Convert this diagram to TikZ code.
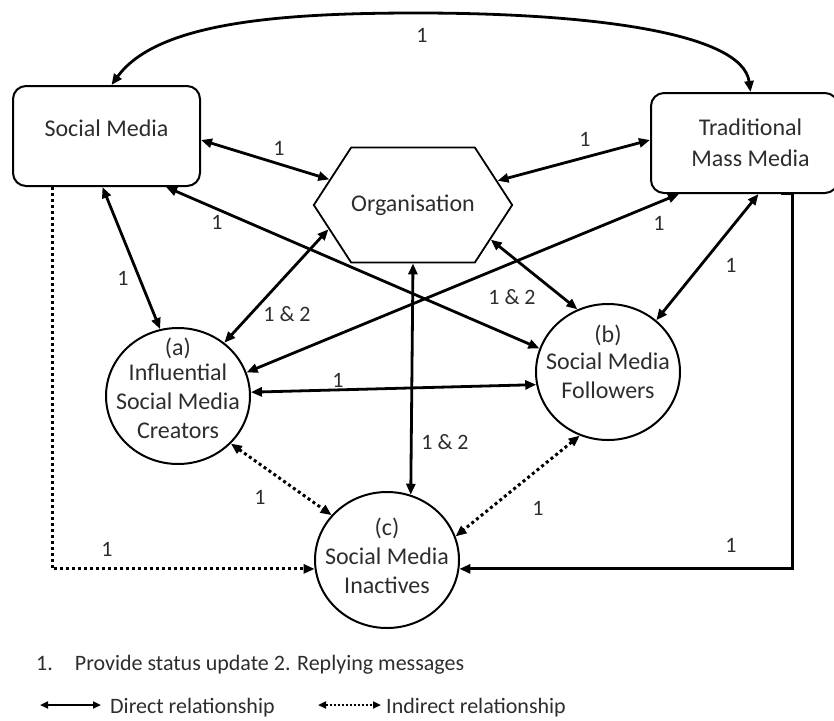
\documentclass[tikz,border=0pt]{standalone}
\usepackage{fontspec}
\setmainfont{Carlito}
\usetikzlibrary{arrows.meta,shapes.geometric,shapes.symbols}
\definecolor{inkgray}{RGB}{45,45,45}
\tikzset{
  mediabox/.style={draw=black, line width=2pt, rounded corners=13pt,
                   minimum width=187pt, minimum height=100pt, inner sep=0pt,
                   align=center, text=inkgray, font=\fontsize{24}{31}\selectfont},
  orgbox/.style={draw=black, line width=1.8pt, signal, signal to=east and west,
                 signal pointer angle=114, minimum width=194pt, minimum height=115pt,
                 inner sep=0pt, text=inkgray, font=\fontsize{24}{29}\selectfont},
  actor/.style={draw=black, line width=2pt, ellipse, inner sep=0pt,
                minimum width=144pt, minimum height=136pt},
  actortext/.style={align=center, text=inkgray, inner sep=0pt,
                    font=\fontsize{24}{29}\selectfont},
  lab/.style={text=inkgray, inner sep=0pt, font=\fontsize{22}{26}\selectfont},
  legendtext/.style={lab, anchor=west},
  direct/.style={line width=2.8pt, {Triangle[length=11pt,width=9pt]}-{Triangle[length=11pt,width=9pt]}},
  oneway/.style={line width=2.8pt, -{Triangle[length=11pt,width=9pt]}},
  indirect/.style={direct, line width=3pt, dash pattern=on 3pt off 3pt},
  onewaydotted/.style={oneway, line width=3pt, dash pattern=on 3pt off 3pt},
  keydirect/.style={line width=2pt, {Triangle[length=8pt,width=7pt]}-{Triangle[length=8pt,width=7pt]}},
  keyindirect/.style={keydirect, dash pattern=on 2pt off 2pt},
}

\begin{document}
\begin{tikzpicture}[x=1pt,y=-1pt]
  \path[use as bounding box] (0,0) rectangle (834,720);

  % media and organisation
  \node[mediabox] (SM) at (106.5,136) {};
  \node[actortext] (SMtext) at ([yshift=8pt]SM.center) {Social Media};
  \node[mediabox] (TMM) at (744.5,143) {\hspace{12pt}Traditional\\\hspace{12pt}Mass Media};
  \node[orgbox] (ORG) at (413,205) {Organisation};

  % audiences
  \node[actor] (INF) at (178,396) {};
  \node[actortext] (INFtext) at ([yshift=8pt]INF.center)
    {(a)\\[-4pt]Influential\\Social Media\\Creators};
  \node[actor] (FOL) at (608,372) {};
  \node[actortext] (FOLtext) at ([yshift=10pt]FOL.center)
    {(b)\\[-2pt]Social Media\\Followers};
  \node[actor] (INA) at (387,560) {};
  \node[actortext] (INAtext) at ([yshift=4pt]INA.center)
    {(c)\\Social Media\\Inactives};

  % direct relationships
  \coordinate (arctop) at (417,13);
  \draw[direct] ([xshift=5pt]SM.north) .. controls +(45,-62) and +(-140,0) .. (arctop)
    .. controls +(170,0) and +(-8,-60) .. ([xshift=6pt]TMM.north);
  \draw[direct] ([yshift=-4pt]SM.east) -- (ORG.163);
  \draw[direct] ([yshift=3pt]TMM.west) -- (ORG.16);
  \draw[direct] ([xshift=-4pt]SM.south) -- (INF.105);
  \draw[direct] ([xshift=-35pt]SM.south east) -- (FOL.161);
  \draw[direct] (ORG.196) -- (INF.49);
  \draw[direct] ([xshift=29pt]TMM.south west) -- (INF.19);
  \draw[direct] (ORG.336) -- (FOL.116);
  \draw[direct] ([xshift=14pt]TMM.south) -- (FOL.47);
  \draw[direct] (INF.3) -- (FOL.190);
  \draw[direct] (ORG.south) -- (INA.70);
  \draw[oneway] ([xshift=36pt]TMM.south) -- ++(12,0) |- (INA.353);

  % indirect relationships
  \draw[indirect] (INF.318) -- (INA.141);
  \draw[indirect] (FOL.246) -- (INA.19);
  \draw[onewaydotted] ([xshift=-54.5pt]SM.south) |- (INA.187);

  % relationship labels
  \node[lab] (l1) at (422,35) {1};
  \node[lab] (l2) at (279,148) {1};
  \node[lab] (l3) at (585,139) {1};
  \node[lab] (l4) at (123,278) {1};
  \node[lab] (l5) at (217,222) {1};
  \node[lab] (l6) at (287,314) {1 \& 2};
  \node[lab] (l7) at (659,223) {1};
  \node[lab] (l8) at (512,297) {1 \& 2};
  \node[lab] (l9) at (731,265) {1};
  \node[lab] (l10) at (338,380) {1};
  \node[lab] (l11) at (445,442) {1 \& 2};
  \node[lab] (l12) at (260,497) {1};
  \node[lab] (l13) at (538,508) {1};
  \node[lab] (l14) at (107,549) {1};
  \node[lab] (l15) at (731,545) {1};

  % legend
  \node[legendtext] (note) at (36,665) {1.\hspace{22pt}Provide status update 2. Replying messages};
  \coordinate (kd1) at (40,705);
  \coordinate (kd2) at (101,705);
  \draw[keydirect] (kd1) -- (kd2);
  \node[legendtext] (keyd) at (110,708) {Direct relationship};
  \coordinate (ki1) at (318,705);
  \coordinate (ki2) at (381,705);
  \draw[keyindirect] (ki1) -- (ki2);
  \node[legendtext] (keyi) at (386,708) {Indirect relationship};
\end{tikzpicture}
\end{document}
